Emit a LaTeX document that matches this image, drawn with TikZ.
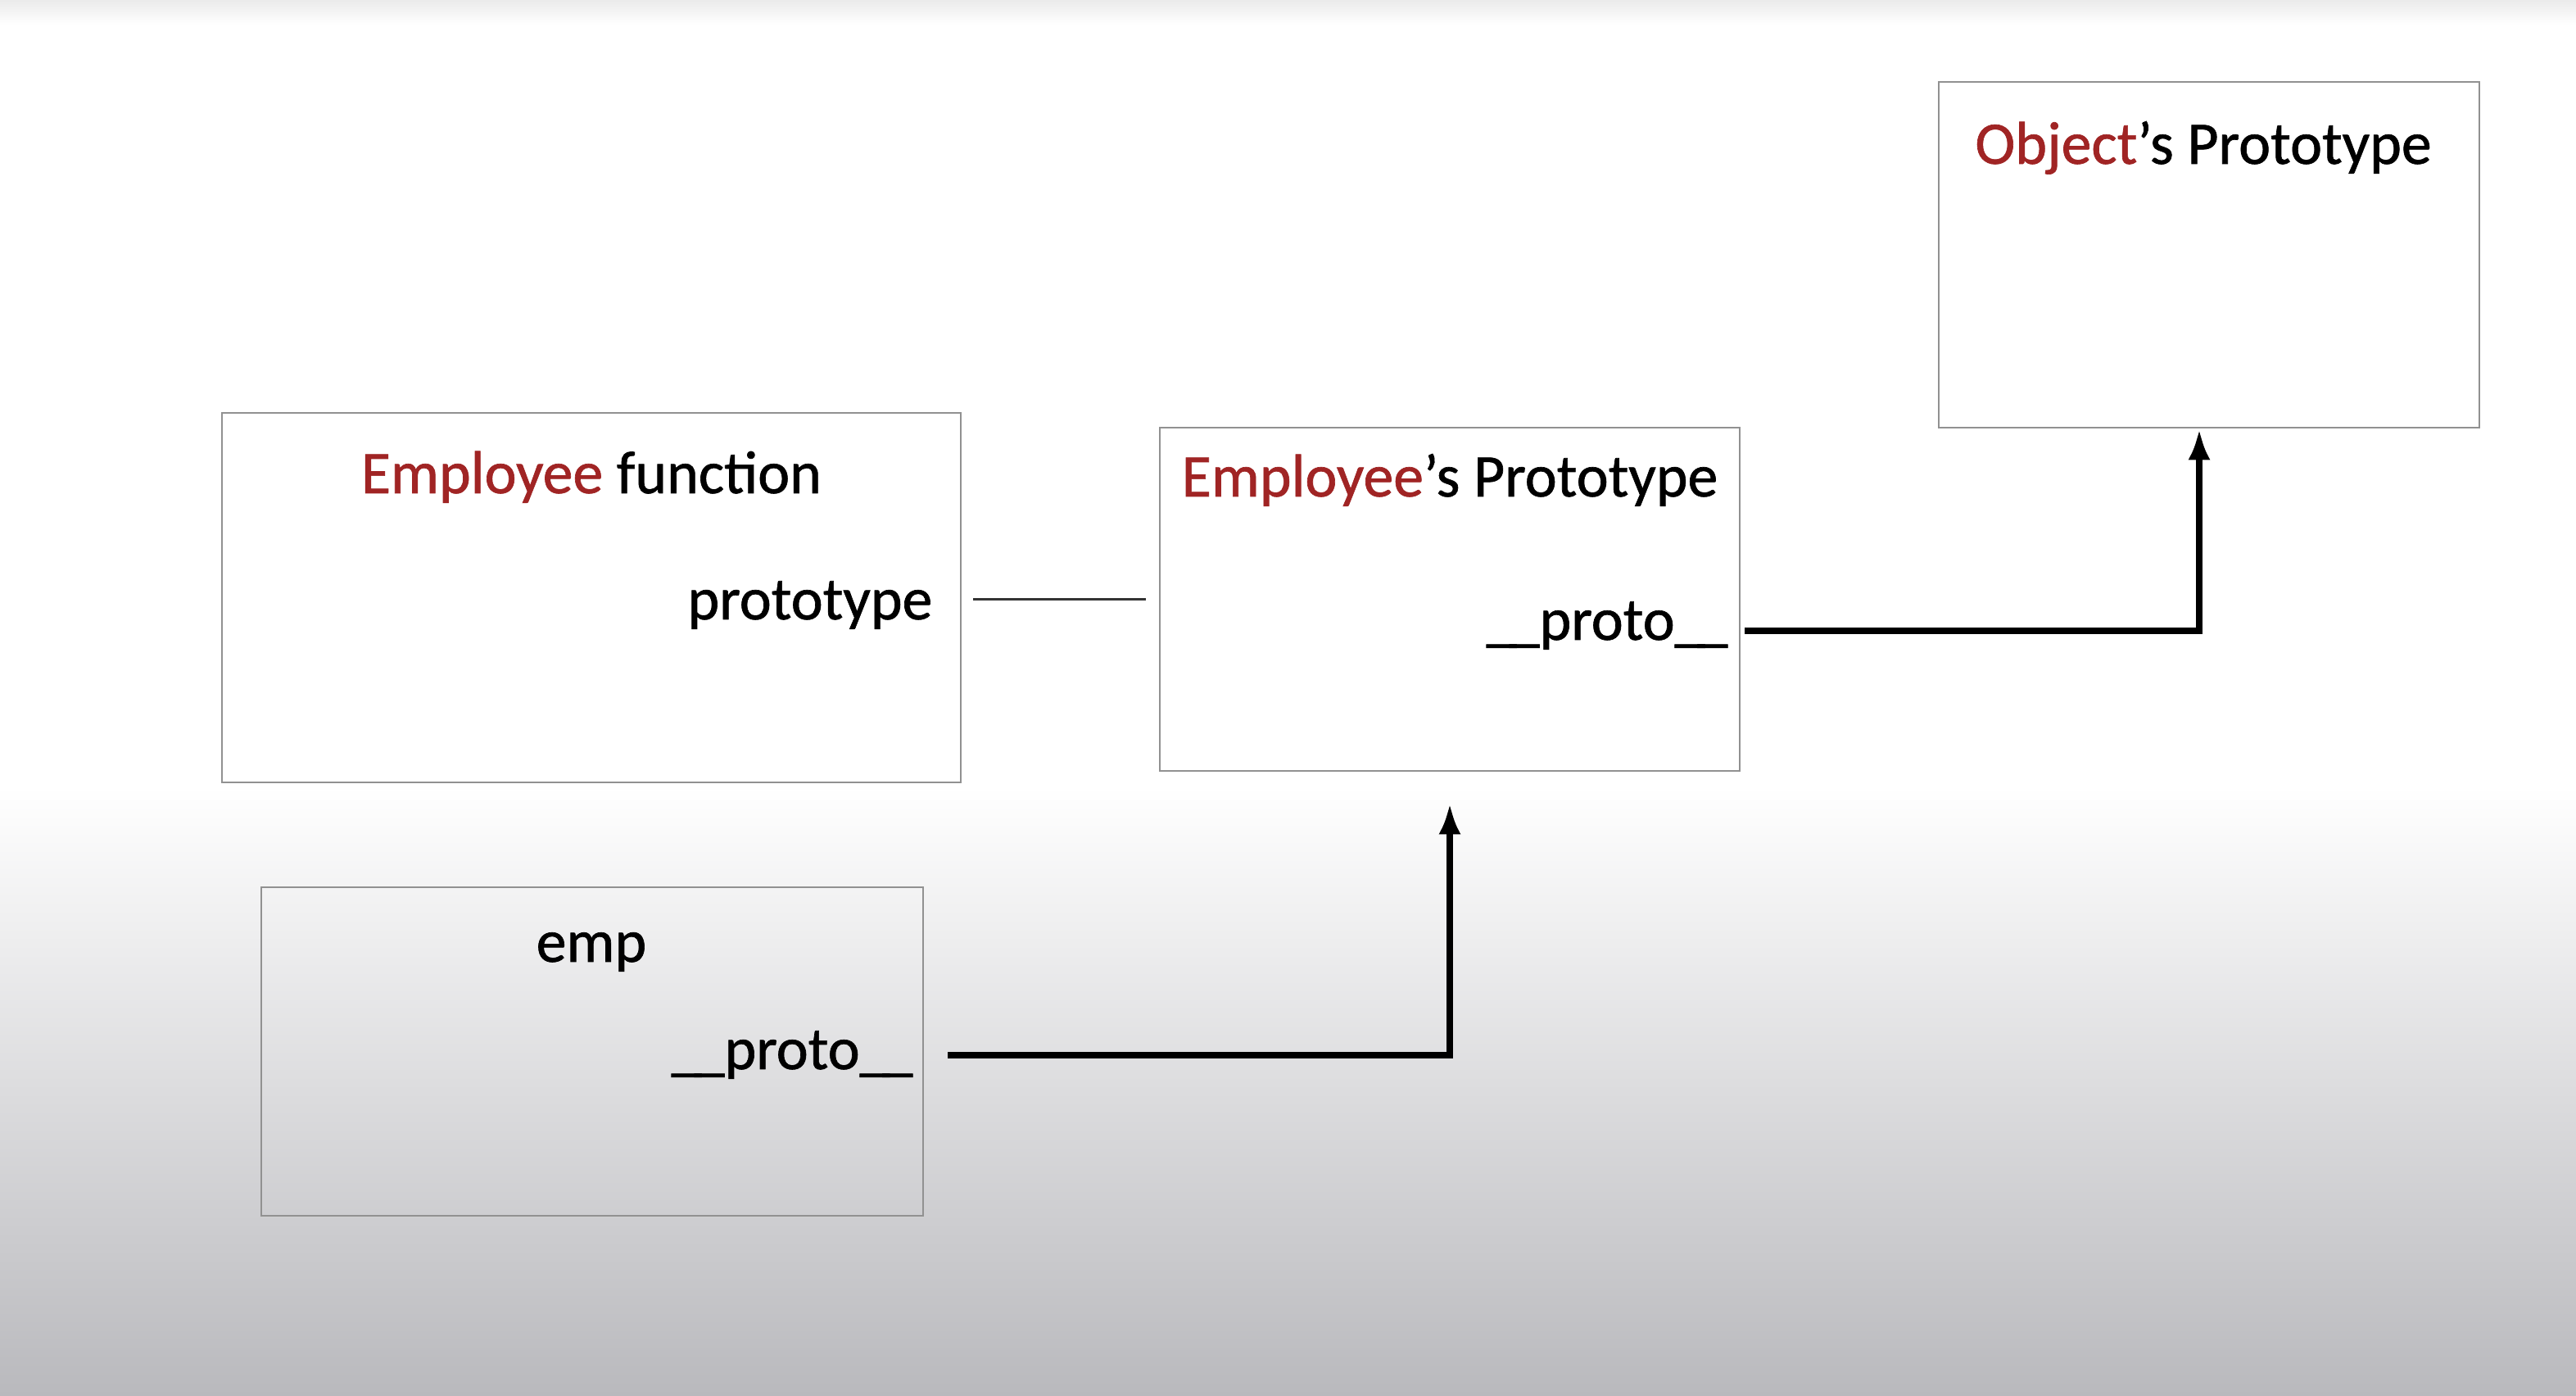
\documentclass[tikz,border=0pt]{standalone}
\usepackage{fontspec}
\setmainfont{Carlito}
\newfontfamily\lblfont{Carlito}[FakeBold=0.9, Ligatures=TeX]
\usetikzlibrary{arrows.meta}
\definecolor{keyred}{RGB}{160,36,36}
\definecolor{boxgray}{RGB}{145,145,145}
\definecolor{bgbottom}{RGB}{185,185,189}
\tikzset{
	objbox/.style={draw=boxgray, line width=0.8pt, inner sep=0pt},
	lbl/.style={inner sep=0pt, font=\lblfont\fontsize{21pt}{25pt}\selectfont, text=black},
	link/.style={line width=2.1pt, -{Latex[length=0.38cm,width=0.27cm]}},
	protoline/.style={line width=0.9pt, draw=black!80}
}
\newcommand{\kw}[1]{\textcolor{keyred}{#1}}
\newcommand{\dund}{\_\kern-0.12em\_}

\begin{document}
\begin{tikzpicture}
		%%%%% START %%%%%
		\useasboundingbox (0, 0) rectangle (31.45, 17.04);
		\fill[white] (0, 0) rectangle (31.45, 17.04);
		\shade[top color=white, bottom color=bgbottom] (0, 0) rectangle (31.45, 7.44);
		\shade[top color=black!8, bottom color=white] (0, 16.74) rectangle (31.45, 17.04);
		
		%%%%% BOXES %%%%%
		\node[objbox, minimum width=9.02cm, minimum height=4.51cm] (fnbox) at (7.22, 9.745) {};
		\node[objbox, minimum width=7.08cm, minimum height=4.19cm] (epbox) at (17.70, 9.725) {};
		\node[objbox, minimum width=6.60cm, minimum height=4.22cm] (obbox) at (26.97, 13.93) {};
		\node[objbox, minimum width=8.08cm, minimum height=4.01cm] (empbox) at (7.23, 4.205) {};
		
		%%%%% LABELS %%%%%
		\node[lbl, anchor=base] (fntitle) at (7.22, 11.02) {\kw{Employee} function};
		\node[lbl, anchor=base east] (fnproto) at (11.39, 9.48) {prototype};
		
		\node[lbl, anchor=base] (eptitle) at (17.70, 10.98) {\kw{Employee}’\kern-0.04em s Prototype};
		\node[lbl, anchor=base east] (epdunder) at (21.10, 9.23) {\dund proto\dund};
		
		\node[lbl, anchor=base] (obtitle) at (26.90, 15.04) {\kw{Object}’\kern-0.04em s Prototype};
		
		\node[lbl, anchor=base] (emptitle) at (7.22, 5.30) {emp};
		\node[lbl, anchor=base east] (empdunder) at (11.15, 3.99) {\dund proto\dund};
		
		%%%%% LINKS %%%%%
		\draw[protoline] ([xshift=0.49cm]fnproto.east |- epbox.west) -- ([xshift=-0.16cm]epbox.west);
		\draw[link] ([shift={(0.42, 0.17)}]empdunder.base east) -| ([yshift=-0.38cm]epbox.south);
		\draw[link] ([shift={(0.20, 0.11)}]epdunder.base east) -| ([xshift=-0.12cm]obbox.south);
		%%%%% END %%%%%
	\end{tikzpicture}
\end{document}
